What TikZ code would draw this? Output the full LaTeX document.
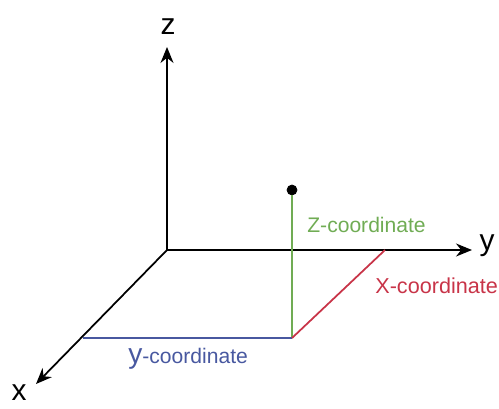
\documentclass[tikz,border=0pt]{standalone}
\usepackage{fontspec}
\setmainfont{Liberation Sans}
\usetikzlibrary{arrows.meta}
\usepackage{xcolor}
\definecolor{zgreen}{RGB}{112,172,84}
\definecolor{xred}{RGB}{200,52,72}
\definecolor{yblue}{RGB}{72,88,160}

\begin{document}
\begin{tikzpicture}[x=0.02cm, y=-0.02cm]
\useasboundingbox (0,0) rectangle (499,408);

\coordinate (o) at (167,250);
\coordinate (zt) at (167,47);
\coordinate (yt) at (472,250);
\coordinate (xt) at (36,384);
\coordinate (foot) at (292,338);
\coordinate (xfoot) at (83,338);
\coordinate (yfoot) at (385,250);

\node[circle, draw, fill, inner sep =0, minimum size = .2cm] (pt) at (292,190) {};

\draw[-{Stealth[length=3.2mm, width=2.6mm]}, line width=1pt] (o) -- (zt);
\draw[-{Stealth[length=3.2mm, width=2.6mm]}, line width=1pt] (o) -- (yt);
\draw[-{Stealth[length=3.2mm, width=2.6mm]}, line width=1pt] (o) -- (xt);

\draw[zgreen, line width=1pt] (pt) -- (foot);
\draw[yblue, line width=1pt] (xfoot) -- (foot);
\draw[xred, line width=1pt] (foot) -- (yfoot);

\node (zl) at (168,27) {\fontsize{17}{17}\selectfont z};
\node (yl) at (487,246) {\fontsize{17}{17}\selectfont y};
\node (xl) at (19,393) {\fontsize{17}{17}\selectfont x};

\node[zgreen, anchor=base west, inner sep=0] (zc) at (307,232) {\fontsize{12}{14}\selectfont Z-coordinate};
\node[xred, anchor=base west, inner sep=0] (xc) at (375,293) {\fontsize{12.3}{14}\selectfont X-coordinate};
\node[yblue, anchor=base west, inner sep=0] (yc) at (128,363) {\fontsize{16}{16}\selectfont y\fontsize{12}{14}\selectfont-coordinate};

\end{tikzpicture}
\end{document}
